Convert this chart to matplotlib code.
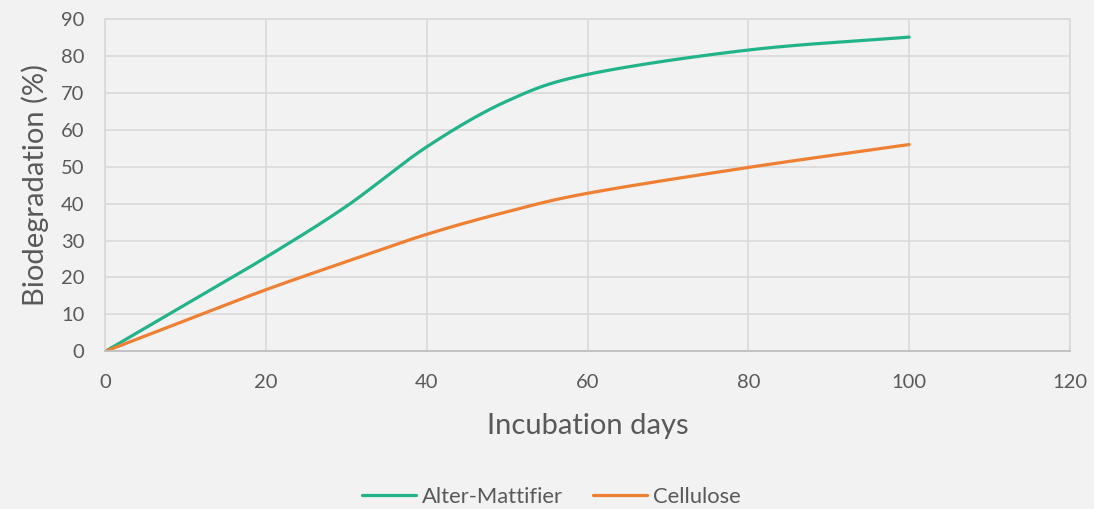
import matplotlib.pyplot as plt
import numpy as np

days = [0, 10, 20, 30, 40, 50, 60, 80, 100]
alter_mattifier = [0, 12.7, 25.5, 39.3, 55.4, 67.8, 75.0, 81.6, 85.1]
cellulose = [0, 8.4, 16.7, 24.3, 31.7, 37.8, 42.8, 49.8, 56.0]

GREEN = "#22b38b"
ORANGE = "#ef7f33"
TEXT = "#595959"
BG = "#f2f2f2"


def smooth(x, y, steps=30):
    # Catmull-Rom curve through the points, like a spreadsheet "smoothed line"
    x = np.asarray(x, float)
    y = np.asarray(y, float)
    px = np.concatenate([[2 * x[0] - x[1]], x, [2 * x[-1] - x[-2]]])
    py = np.concatenate([[2 * y[0] - y[1]], y, [2 * y[-1] - y[-2]]])
    xs, ys = [], []
    t = np.linspace(0, 1, steps, endpoint=False)
    for i in range(1, len(px) - 2):
        for p, out in ((px, xs), (py, ys)):
            p0, p1, p2, p3 = p[i - 1], p[i], p[i + 1], p[i + 2]
            c1 = p1 + (p2 - p0) / 6
            c2 = p2 - (p3 - p1) / 6
            out.extend((1 - t) ** 3 * p1 + 3 * (1 - t) ** 2 * t * c1
                       + 3 * (1 - t) * t ** 2 * c2 + t ** 3 * p2)
    xs.append(x[-1])
    ys.append(y[-1])
    return xs, ys


plt.rcParams["font.family"] = ["Lato", "DejaVu Sans"]

fig = plt.figure(figsize=(10.94, 5.09), dpi=100, facecolor=BG)
ax = fig.add_axes([0.0963, 0.3098, 0.8817, 0.6529], facecolor=BG)

ax.plot(*smooth(days, alter_mattifier), color=GREEN, lw=2.3,
        solid_capstyle="round", label="Alter-Mattifier")
ax.plot(*smooth(days, cellulose), color=ORANGE, lw=2.3,
        solid_capstyle="round", label="Cellulose")

ax.set_xlim(0, 120)
ax.set_ylim(0, 90)
ax.set_xticks(range(0, 121, 20))
ax.set_yticks(range(0, 91, 10))
ax.grid(True, color="#d9d9d9", lw=1.2)
ax.set_axisbelow(True)

for side in ("left", "top", "right"):
    ax.spines[side].set_color("#d9d9d9")
    ax.spines[side].set_linewidth(1.2)
ax.spines["bottom"].set_color("#bfbfbf")
ax.spines["bottom"].set_linewidth(1.3)

ax.tick_params(length=0, labelsize=14.5, labelcolor=TEXT)
ax.tick_params(axis="x", pad=16)
ax.tick_params(axis="y", pad=15)

ax.set_xlabel("Incubation days", fontsize=21, color=TEXT, labelpad=16)
ax.set_ylabel("Biodegradation (%)", fontsize=21, color=TEXT, labelpad=9)

fig.legend(loc="center", bbox_to_anchor=(0.504, 1 - 497 / 509), ncol=2,
           frameon=False, fontsize=15.8, labelcolor=TEXT, handlelength=2.45,
           handletextpad=0.25, columnspacing=1.4)

fig.savefig("out.png", dpi=100, facecolor=BG)
